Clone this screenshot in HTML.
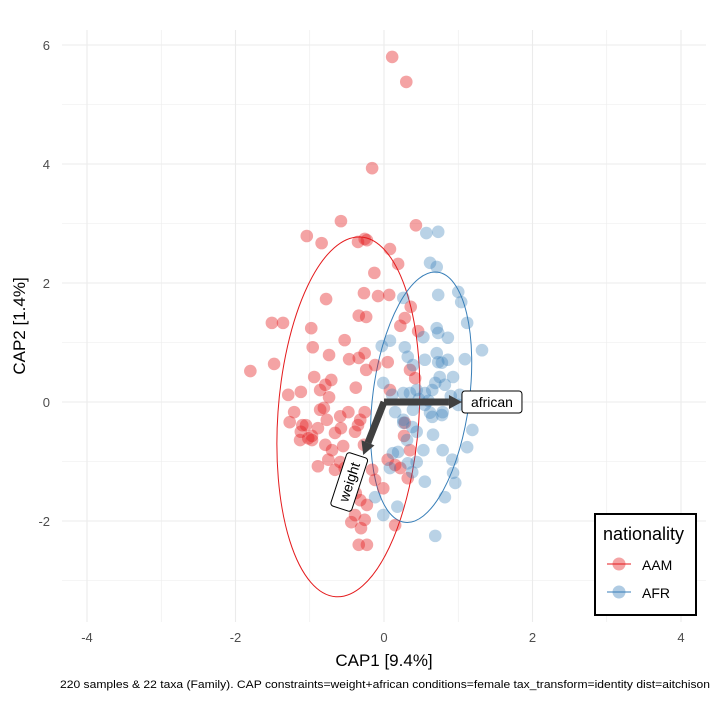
<!DOCTYPE html>
<html><head><meta charset="utf-8"><style>
body{margin:0;background:#fff}
svg{display:block;font-family:"Liberation Sans",Arial,sans-serif}
</style></head><body>
<svg id="chart" width="720" height="720" viewBox="0 0 720 720" xmlns="http://www.w3.org/2000/svg">
<rect width="720" height="720" fill="#fff"/>
<g id="grid"></g>
<g id="ellipses"></g>
<g id="points"></g>
<g id="arrows"></g>
<g id="ticks"></g>
<text x="384" y="666" text-anchor="middle" font-size="17" fill="#000">CAP1 [9.4%]</text>
<text transform="translate(25,326) rotate(-90)" text-anchor="middle" font-size="17" fill="#000">CAP2 [1.4%]</text>
<text x="60" y="688" textLength="650" lengthAdjust="spacingAndGlyphs" font-size="11" fill="#000">220 samples &amp; 22 taxa (Family). CAP constraints=weight+african conditions=female tax_transform=identity dist=aitchison</text>
<g>
<rect x="595" y="514" width="101" height="101" fill="#fff" stroke="#000" stroke-width="2"/>
<text x="603" y="540" font-size="18" fill="#000">nationality</text>
<g>
<line x1="607" y1="564" x2="631" y2="564" stroke="#e41a1c" stroke-width="1"/>
<circle cx="619" cy="564" r="6.5" fill="#e41a1c" fill-opacity="0.4"/>
<text x="642" y="570" font-size="14">AAM</text></g>
<g>
<line x1="607" y1="592" x2="631" y2="592" stroke="#377eb8" stroke-width="1"/>
<circle cx="619" cy="592" r="6.5" fill="#377eb8" fill-opacity="0.4"/>
<text x="642" y="598" font-size="14">AFR</text></g>
</g>
</svg>
<script>
const xTicks=[-4,-2,0,2,4];
const yTicks=[-2,0,2,4,6];
const aamX=[0.11,0.30,-0.16,-0.58,0.43,-1.04,-0.84,-0.35,-0.26,-0.23,0.08,-0.13,0.19,0.07,-0.27,-0.08,-0.78,0.36,0.28,0.22,-1.51,-1.36,-0.98,-0.34,-0.24,0.46,-1.80,-1.48,-0.96,-0.74,-0.53,-0.26,-0.34,-0.12,-0.24,0.05,-0.94,-0.79,-0.74,-0.71,-0.38,-0.47,0.08,0.42,0.35,-1.29,-1.12,-0.86,-0.26,-1.12,-1.05,-0.89,-0.77,-0.59,-0.48,-0.32,-0.86,-0.81,-0.66,-0.58,-0.39,-0.35,-1.27,-1.10,-0.97,-0.79,-0.70,-0.55,-0.59,-0.53,-0.66,-0.42,-0.12,0.05,0.15,0.22,-0.27,-0.16,-0.01,0.32,-0.38,-0.32,-0.23,-0.39,-0.44,-0.31,-0.26,0.15,-0.34,-0.23,-1.21,-0.97,0.35,0.27,0.28,-0.89,-0.75,-1.13,-1.02];
const aamY=[5.80,5.38,3.93,3.04,2.97,2.79,2.67,2.69,2.74,2.72,2.57,2.17,2.32,1.80,1.83,1.78,1.73,1.60,1.41,1.28,1.33,1.33,1.24,1.45,1.43,1.19,0.52,0.64,0.92,0.79,1.04,0.82,0.74,0.62,0.54,0.67,0.42,0.29,0.08,0.37,0.24,0.72,0.20,0.40,0.54,0.12,0.17,0.20,-0.17,-0.50,-0.39,-0.44,-0.30,-0.24,-0.17,-0.30,-0.13,-0.10,-0.52,-0.44,-0.50,-0.39,-0.34,-0.39,-0.57,-0.72,-0.81,-0.74,-1.01,-1.11,-1.14,-1.14,-1.31,-0.97,-1.06,-1.11,-0.72,-1.14,-1.45,-1.28,-1.53,-1.65,-1.73,-1.90,-2.02,-2.12,-1.98,-2.07,-2.40,-2.40,-0.17,-0.64,-0.81,-0.57,-0.35,-1.08,-0.97,-0.64,-0.61];
const afrX=[0.73,0.57,0.62,0.71,0.73,1.00,1.04,1.12,0.26,0.71,0.73,0.53,0.86,-0.03,0.08,0.28,0.32,0.71,1.32,1.09,0.39,0.55,0.73,0.78,0.86,0.93,0.75,0.69,0.82,0.65,-0.01,0.11,0.26,0.35,0.44,0.55,1.02,0.15,0.39,0.62,0.79,0.26,0.26,0.38,0.44,0.65,0.78,0.66,0.53,0.79,1.19,1.12,0.92,0.93,0.96,0.82,0.12,0.19,0.08,0.32,0.38,0.55,-0.12,0.18,-0.01,0.69,0.44,0.31,0.47,0.60,0.90,1.00,0.55];
const afrY=[2.86,2.84,2.34,2.27,1.80,1.85,1.68,1.33,1.75,1.24,1.16,1.09,1.08,0.94,1.03,0.92,0.76,0.82,0.87,0.72,0.62,0.71,0.67,0.66,0.71,0.42,0.42,0.32,0.29,0.20,0.32,0.12,0.15,0.15,0.20,0.15,0.12,-0.17,-0.13,-0.18,-0.17,-0.30,-0.35,-0.42,-0.50,-0.25,-0.22,-0.55,-0.81,-0.81,-0.47,-0.76,-0.97,-1.19,-1.36,-1.60,-0.86,-0.84,-1.11,-1.03,-1.18,-1.34,-1.60,-1.76,-1.90,-2.25,-1.01,-0.64,0.05,0.02,0.10,-0.05,-0.05];
// ellipses: center x, center y, semi-axis x, semi-axis y, tilt deg
const ellAAM=[-0.48,-0.25,0.95,3.03,4];
const ellAFR=[0.50,0.08,0.65,2.12,7.5];
// arrows: end x, end y
const arrowAfrican=[1.05,0];
const arrowWeight=[-0.28,-0.89];
const NS="http://www.w3.org/2000/svg";
const sx=v=>384+v*74.25, sy=v=>402-v*59.5;
const L=62,R=706,T=30,B=622;
function el(tag,attrs,parent){const e=document.createElementNS(NS,tag);for(const k in attrs)e.setAttribute(k,attrs[k]);parent.appendChild(e);return e;}
const grid=document.getElementById('grid');
for(let v=-5;v<=5;v++){const x=sx(v);if(x<L||x>R)continue;const l=el('line',{x1:x,x2:x,y1:T,y2:B,stroke:'#ebebeb','stroke-width':v%2===0?1.1:0.55},grid);

}
for(let v=-4;v<=7;v++){const y=sy(v);if(y<T||y>B)continue;const l=el('line',{x1:L,x2:R,y1:y,y2:y,stroke:'#ebebeb','stroke-width':v%2===0?1.1:0.55},grid);

}
const ticks=document.getElementById('ticks');
xTicks.forEach(v=>{const t=el('text',{x:sx(v),y:642,'text-anchor':'middle','font-size':13,fill:'#4d4d4d'},ticks);t.textContent=v;

});
yTicks.forEach(v=>{const t=el('text',{x:50,y:sy(v)+5,'text-anchor':'end','font-size':13,fill:'#4d4d4d'},ticks);t.textContent=v;

});
const eg=document.getElementById('ellipses');
[[ellAAM,'#e41a1c','ellipse-aam'],[ellAFR,'#377eb8','ellipse-afr']].forEach(([e,c,n])=>{
const cx=sx(e[0]),cy=sy(e[1]);
const o=el('ellipse',{cx:cx,cy:cy,rx:e[2]*74.25,ry:e[3]*59.5,fill:'none',stroke:c,'stroke-width':1,transform:`rotate(${e[4]} ${cx} ${cy})`},eg);

});
const pg=document.getElementById('points');
aamX.forEach((x,i)=>{const c=el('circle',{cx:sx(x),cy:sy(aamY[i]),r:6.3,fill:'#e41a1c','fill-opacity':0.4},pg);

});
afrX.forEach((x,i)=>{const c=el('circle',{cx:sx(x),cy:sy(afrY[i]),r:6.3,fill:'#377eb8','fill-opacity':0.35},pg);

});
const ag=document.getElementById('arrows');
function arrow(end,name){
const x0=sx(0),y0=sy(0),x1=sx(end[0]),y1=sy(end[1]);
const a=Math.atan2(y1-y0,x1-x0),h=13,w=7;
const bx=x1-h*Math.cos(a),by=y1-h*Math.sin(a);
const g=el('g',{},ag);


el('line',{x1:x0,y1:y0,x2:bx,y2:by,stroke:'#404040','stroke-width':7,'stroke-linecap':'butt'},g);
el('polygon',{points:`${x1},${y1} ${bx-w*Math.sin(a)},${by+w*Math.cos(a)} ${bx+w*Math.sin(a)},${by-w*Math.cos(a)}`,fill:'#404040'},g);}
arrow(arrowAfrican,'arrow-african');
arrow(arrowWeight,'arrow-weight');
const la=el('g',{transform:`translate(${sx(arrowAfrican[0])},${sy(arrowAfrican[1])})`},ag);


el('rect',{x:0,y:-11,width:60,height:22,rx:3,fill:'#fff',stroke:'#000','stroke-width':1},la);
const ta=el('text',{x:30,y:5,'text-anchor':'middle','font-size':14},la);ta.textContent='african';
const lw=el('g',{transform:`translate(${sx(arrowWeight[0])-14},${sy(arrowWeight[1])+27}) rotate(-72)`},ag);


el('rect',{x:-28,y:-11,width:56,height:22,rx:3,fill:'#fff',stroke:'#000','stroke-width':1},lw);
const tw=el('text',{x:0,y:5,'text-anchor':'middle','font-size':14},lw);tw.textContent='weight';
</script>
</body></html>
